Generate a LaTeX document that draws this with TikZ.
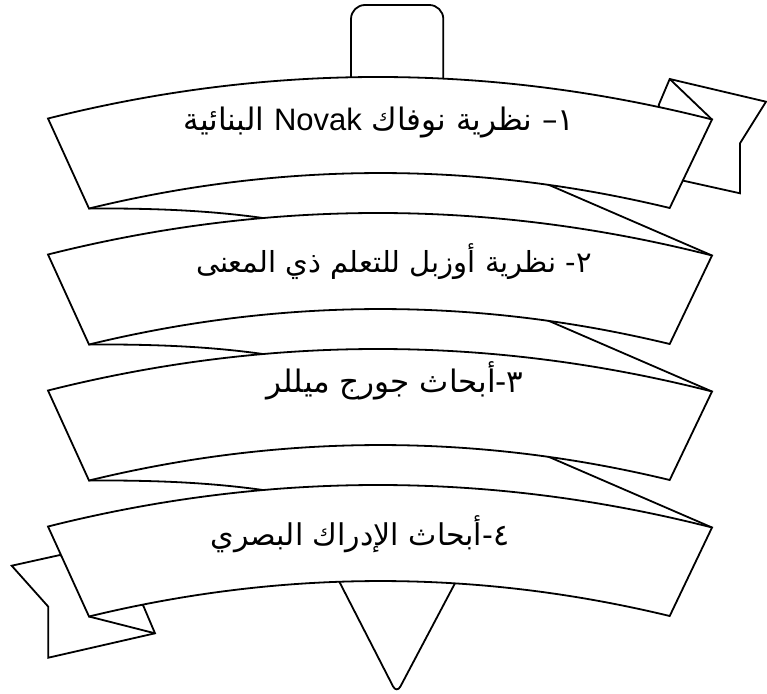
\documentclass[tikz,border=0pt]{standalone}
\usepackage{fontspec}
\TeXXeTstate=1
\newfontfamily\arabicfont[Script=Arabic]{DejaVu Sans}
\newfontfamily\latinfont{Liberation Sans}
\begin{document}
\begin{tikzpicture}[x=1pt,y=-1pt,line width=1.8pt,line join=miter,
  piece/.style={draw=black,fill=white},
  edgeline/.style={draw=black},
  label/.style={font=\arabicfont,anchor=base,inner sep=0pt},
  fs/.style={font=\arabicfont\fontsize{#1}{#1}\selectfont}]
\useasboundingbox (0,0) rectangle (767,693);
% top tab
\draw[piece,rounded corners=14pt] (351,110) -- (351,5) -- (443.3,5) -- (443.3,110);
% bottom pointer
\draw[piece,rounded corners=8pt] (328.7,561) -- (396.7,693.5) -- (465.8,562.8);
% right tail of the first banner
\coordinate (tr1) at (712,119.5);
\coordinate (rtA) at (669.7,79);
\draw[piece] (658.7,105) -- (rtA) -- (766,101.7) -- (740,143.3) -- (740,193.3) -- (683.3,180.7) -- cycle;
\draw[edgeline] (rtA) -- (tr1);
% left tail of the last banner
\coordinate (bl4) at (89,616.5);
\coordinate (ltK) at (155,633.3);
\draw[piece] (60,555) -- (11.7,565.7) -- (48.3,606.7) -- (48.3,657.7) -- (ltK) -- (143.3,605.7) -- cycle;
\draw[edgeline] (ltK) -- (bl4);
% back pieces between banners
\foreach \k in {0,1,2} {
  \draw[edgeline] (89,{208.5+136*\k}) .. controls (180,{208+136*\k}) and (240,{213+136*\k}) .. (300,{224+136*\k});
  \draw[edgeline] (450,{142.1+136*\k}) -- (712,{255.5+136*\k});
}
% banners
\foreach \k in {0,...,3} {
  \draw[piece] (48,{118.5+136*\k}) .. controls (269.3,{62.83+136*\k}) and (490.7,{63.17+136*\k}) .. (712,{119.5+136*\k})
    -- (669.7,{208+136*\k}) .. controls (476.1,{161.2+136*\k}) and (282.6,{161.4+136*\k}) .. (89,{208.5+136*\k}) -- cycle;
}
% texts
\node[label,fs=31] (t1) at (379,130) {\beginR ١– نظرية نوفاك \beginL{\latinfont Novak}\endL{} البنائية\endR};
\node[label,fs=29] (t2) at (394,272) {\beginR ٢- نظرية أوزبل للتعلم ذي المعنى\endR};
\node[label,fs=31] (t3) at (395,392) {\beginR ٣-أبحاث جورج ميللر\endR};
\node[label,fs=30] (t4) at (360,545) {\beginR ٤-أبحاث الإدراك البصري\endR};
\end{tikzpicture}
\end{document}
